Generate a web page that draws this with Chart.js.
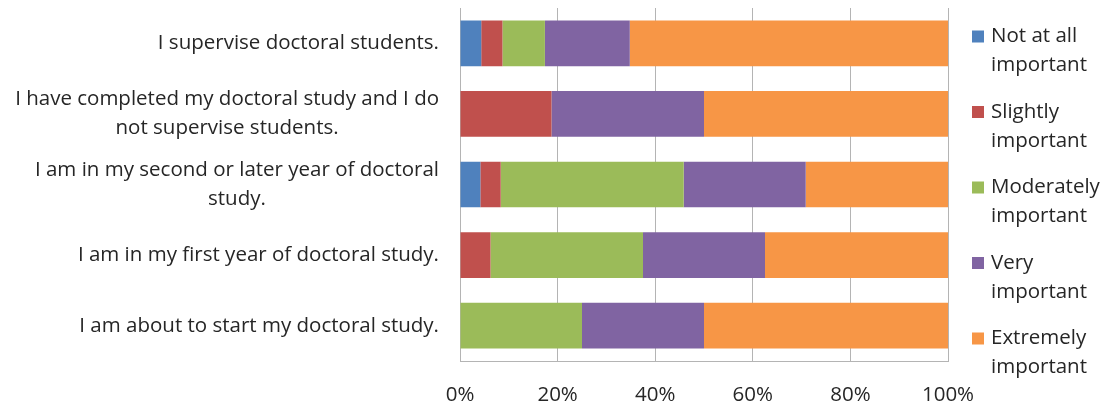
<!DOCTYPE html>
<html>
<head>
<meta charset="utf-8">
<title>Importance by doctoral stage</title>
<script src="https://cdn.jsdelivr.net/npm/chart.js@4.4.1/dist/chart.umd.min.js"></script>
<style>
  html, body { margin: 0; padding: 0; background: #fff; }
  #wrap { width: 1107px; height: 403px; }
</style>
</head>
<body>
<div id="wrap"><canvas id="stageChart" width="1107" height="403"></canvas></div>
<script>
// ── Survey data (percent of respondents per group) ────────────
const groups = [
  ['I supervise doctoral students.'],
  ['I have completed my doctoral study and I do', 'not supervise students.'],
  ['I am in my second or later year of doctoral', 'study.'],
  ['I am in my first year of doctoral study.'],
  ['I am about to start my doctoral study.'],
];

const seriesNames = [
  'Not at all important',
  'Slightly important',
  'Moderately important',
  'Very important',
  'Extremely important',
];

const notAtAll   = [4.35, 0,     4.17,  0,     0];
const slightly   = [4.35, 18.75, 4.17,  6.25,  0];
const moderately = [8.70, 0,     37.5,  31.25, 25];
const very       = [17.39, 31.25, 25,   25,    25];
const extremely  = [65.21, 50,   29.16, 37.5,  50];

const xTicks = [0, 20, 40, 60, 80, 100];

const seriesColors = ['#4F81BD', '#C0504D', '#9BBB59', '#8064A2', '#F79646'];

const FONT = '"Open Sans", Lato, sans-serif';
const FONT_SIZE = 20.5;
const TEXT = '#262626';
const GRID = '#b4b4b4';

// y labels: widest line right-aligned, the other lines centred on it
const groupLabels = {
  id: 'groupLabels',
  afterDraw(chart) {
    const ctx = chart.ctx;
    const yScale = chart.scales.y;
    const right = chart.chartArea.left - 21;
    const lineH = 29;
    ctx.save();
    ctx.font = `${FONT_SIZE}px ${FONT}`;
    ctx.fillStyle = TEXT;
    ctx.textAlign = 'center';
    ctx.textBaseline = 'middle';
    groups.forEach((lines, i) => {
      const yc = yScale.getPixelForValue(i);
      const w = Math.max(...lines.map(l => ctx.measureText(l).width));
      const xc = right - w / 2;
      const y0 = yc - (lines.length - 1) * lineH / 2;
      lines.forEach((l, j) => ctx.fillText(l, xc, y0 + j * lineH));
    });
    ctx.restore();
  },
};

// legend on the right, two lines per entry
const sideLegend = {
  id: 'sideLegend',
  afterDraw(chart) {
    const ctx = chart.ctx;
    const boxX = 972, box = 12, textX = 991;
    const top = 30.5, step = 75.5, lineH = 29;
    ctx.save();
    ctx.font = `${FONT_SIZE}px ${FONT}`;
    ctx.textAlign = 'left';
    ctx.textBaseline = 'middle';
    chart.data.datasets.forEach((ds, i) => {
      const y = top + i * step;
      ctx.fillStyle = ds.backgroundColor;
      ctx.fillRect(boxX, y, box, box);
      const cut = ds.label.lastIndexOf(' ');
      ctx.fillStyle = TEXT;
      ctx.fillText(ds.label.slice(0, cut), textX, y + box / 2);
      ctx.fillText(ds.label.slice(cut + 1), textX, y + box / 2 + lineH);
    });
    ctx.restore();
  },
};

const seriesValues = [notAtAll, slightly, moderately, very, extremely];

new Chart(document.getElementById('stageChart').getContext('2d'), {
  type: 'bar',
  data: {
    labels: groups.map(g => g.join(' ')),
    datasets: seriesNames.map((name, i) => ({
      label: name,
      data: seriesValues[i],
      backgroundColor: seriesColors[i],
      borderWidth: 0,
      barPercentage: 0.647,
      categoryPercentage: 1,
    })),
  },
  options: {
    indexAxis: 'y',
    responsive: false,
    animation: false,
    layout: { padding: { left: 460, right: 159, top: 8, bottom: 0 } },
    plugins: {
      legend: { display: false },
      tooltip: { enabled: false },
    },
    scales: {
      x: {
        stacked: true,
        min: 0,
        max: 100,
        afterBuildTicks: s => { s.ticks = xTicks.map(v => ({ value: v })); },
        afterFit: s => { s.height = 42; },
        ticks: {
          callback: v => `${v}%`,
          color: TEXT,
          padding: 22,
          maxRotation: 0,
          font: { family: FONT, size: FONT_SIZE },
        },
        grid: { color: GRID, lineWidth: 1, drawTicks: false },
        border: { display: true, color: GRID, width: 1 },
      },
      y: {
        stacked: true,
        display: false,
      },
    },
  },
  plugins: [groupLabels, sideLegend],
});
</script>
</body>
</html>
